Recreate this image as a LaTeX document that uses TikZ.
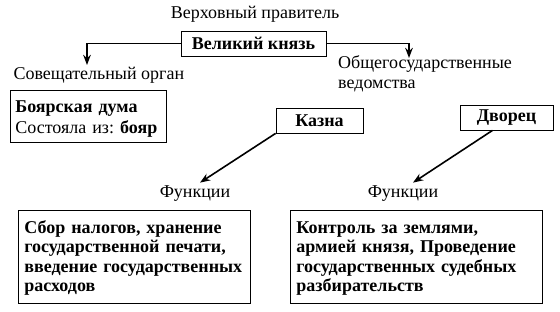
\documentclass[tikz,border=0pt]{standalone}
\usepackage{fontspec}
\setmainfont{Liberation Serif}
\usepackage{tikz}
\usetikzlibrary{arrows.meta,positioning}
\newcommand{\topgap}[1]{\rule{0pt}{#1}}
\newcommand{\bottomgap}[1]{\rule[-#1]{0pt}{#1}}
\frenchspacing

\begin{document}
\begin{tikzpicture}[x=1pt,y=-1pt,>=Stealth,font=\fontsize{18}{20}\selectfont,
  box/.style={draw,line width=0.8pt,inner sep=0pt,align=center,font=\fontsize{18}{22}\selectfont\bfseries},
  textbox/.style={draw,line width=0.8pt,inner xsep=6pt,inner ysep=4pt,align=left,anchor=north west},
  link/.style={->,line width=1.6pt}]
\useasboundingbox (0,0) rectangle (560,311);
% top level
\node (ruler) at (255,14) {Верховный правитель};
\node[box,minimum width=145pt,minimum height=25pt] (prince) at (253.5,43.5) {Великий князь};
\node[anchor=west] (council) at (10,75) {Совещательный орган};
\node[anchor=north west,align=left,inner sep=0pt] (offices) at (338,55) {Общегосударственные\\ведомства};
\coordinate (councilTop) at (87,65);
\coordinate (officesTop) at (409,58);
\draw[link] (prince.west) -| (councilTop);
\draw[link] (prince.east) -| (officesTop);
% boyar duma
\node[textbox,inner xsep=5pt,text width=146pt,font=\fontsize{18}{21}\selectfont] (duma) at (10,90)
  {\topgap{18pt}\textbf{Боярская дума}\\Состояла из: \textbf{бояр}\bottomgap{5pt}};
% treasury and palace
\node[box,minimum width=87pt,minimum height=25pt] (treasury) at (319.5,120.5) {Казна};
\node[box,minimum width=93pt,minimum height=25pt] (palace) at (506.5,117.5) {Дворец};
\node (funcL) at (195,194) {Функции};
\node (funcR) at (403,194) {Функции};
\draw[link] (treasury.south west) -- ([xshift=5pt]funcL.north);
\draw[link] ([xshift=-14pt]palace.south) -- ([xshift=10pt]funcR.north);
% functions
\node[textbox,text width=220pt,font=\fontsize{18}{19.5}\selectfont\bfseries] (tasksL) at (18,210)
  {\topgap{19pt}Сбор налогов, хранение\\государственной печати,\\введение государственных\\расходов\bottomgap{7pt}};
\node[textbox,text width=240pt,font=\fontsize{18}{19.5}\selectfont\bfseries] (tasksR) at (290,210)
  {\topgap{19pt}Контроль за землями,\\армией князя, Проведение\\государственных судебных\\разбирательств\bottomgap{7pt}};
\end{tikzpicture}
\end{document}
